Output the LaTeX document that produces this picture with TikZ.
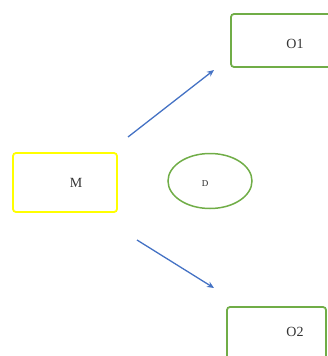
\documentclass[tikz,border=0pt]{standalone}
\usepackage{fontspec}
\setmainfont{Liberation Serif}
\usetikzlibrary{arrows.meta}
\definecolor{boxgreen}{HTML}{70AD47}
\definecolor{arrowblue}{HTML}{4472C4}
\definecolor{boxyellow}{HTML}{FFFF00}
\begin{document}
\begin{tikzpicture}[x=1pt,y=-1pt,
  box/.style={draw, line width=1.8pt, rounded corners=3pt, inner sep=0pt},
  lbl/.style={font=\fontsize{14}{16}\selectfont, text=black!80},
  link/.style={draw=arrowblue, line width=1.3pt, -{Stealth[length=7pt,width=6pt]}}]
  \useasboundingbox (0,0) rectangle (327,356);
  % model box
  \node[box, draw=boxyellow, minimum width=104pt, minimum height=59pt] (m) at (65,182.5) {};
  \node[lbl] (mt) at (76,183) {M};
  % central ellipse
  \draw[boxgreen, line width=1.5pt] (210,181) ellipse [x radius=42, y radius=27.5];
  \node[font=\fontsize{9}{10}\selectfont, text=black!85] (d) at (205,184) {D};
  % output boxes, partly outside the frame
  \node[box, draw=boxgreen, minimum width=110pt, minimum height=53pt] (o1) at (286,40.5) {};
  \node[lbl] (o1t) at (295,44) {O1};
  \node[box, draw=boxgreen, minimum width=99pt, minimum height=60pt] (o2) at (276.5,337) {};
  \node[lbl] (o2t) at (295,332) {O2};
  % connectors
  \coordinate (a1s) at (128,137);
  \coordinate (a1e) at (214,70);
  \coordinate (a2s) at (137,240);
  \coordinate (a2e) at (214,288);
  \draw[link] (a1s) -- (a1e);
  \draw[link] (a2s) -- (a2e);
\end{tikzpicture}
\end{document}
